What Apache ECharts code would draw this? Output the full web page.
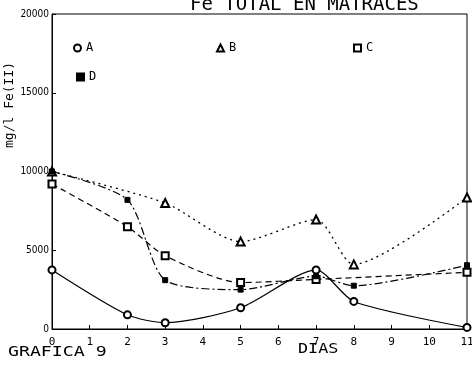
<!DOCTYPE html>
<html>
<head>
<meta charset="utf-8">
<script src="https://cdn.jsdelivr.net/npm/echarts@6/dist/echarts.min.js"></script>
<style>html,body{margin:0;padding:0;background:#fff}#c{width:472px;height:366px}</style>
</head>
<body>
<div id="c"></div>
<script>
// Data
const daysA = [0, 2, 3, 5, 7, 8, 11];
const valuesA = [3750, 900, 400, 1350, 3750, 1750, 100];
const daysB = [0, 3, 5, 7, 8, 11];
const valuesB = [10000, 8000, 5550, 6950, 4100, 8350];
const daysC = [0, 2, 3, 5, 7, 11];
const valuesC = [9200, 6500, 4650, 2950, 3150, 3600];
const daysD = [0, 2, 3, 5, 7, 8, 11];
const valuesD = [10000, 8200, 3100, 2500, 3350, 2750, 4050];
const yTicks = [0, 5000, 10000, 15000, 20000];
const seriesNames = ['A', 'B', 'C', 'D'];

const FONT = 'DejaVu Sans Mono';
const pair = (xs, ys) => xs.map((x, i) => [x, ys[i]]);

const chart = echarts.init(document.getElementById('c'), null, {renderer: 'canvas'});
const base = {
  type: 'line', smooth: 0.25, color: '#000',
  itemStyle: {color: '#000', borderColor: '#000', borderWidth: 1},
  emphasis: {disabled: true}
};
const option = {
  animation: false,
  backgroundColor: '#fff',
  grid: {left: 52, right: 5, top: 14, bottom: 37, show: true, borderColor: '#000', borderWidth: 1,
    containLabel: false, outerBoundsMode: 'none'},
  xAxis: {
    type: 'value', min: 0, max: 11, interval: 1,
    axisLine: {lineStyle: {color: '#000', width: 1}},
    axisTick: {inside: true, length: 4, lineStyle: {color: '#000'}},
    axisLabel: {color: '#000', fontFamily: FONT, fontSize: 11, margin: 8},
    splitLine: {show: false}
  },
  yAxis: {
    type: 'value', min: yTicks[0], max: yTicks[yTicks.length - 1], interval: 5000,
    axisLine: {show: true, lineStyle: {color: '#000', width: 1}},
    axisTick: {show: true, inside: true, length: 4, lineStyle: {color: '#000'}},
    axisLabel: {color: '#000', fontFamily: 'Liberation Sans Narrow, DejaVu Sans Condensed, ' + FONT, fontSize: 10, margin: 3,
      formatter: v => String(v)},
    splitLine: {show: false}
  },
  legend: [
    {data: [{name: 'A', icon: 'emptyCircle'}], left: 68, top: 37},
    {data: [{name: 'B', icon: 'emptyTriangle'}], left: 211, top: 37},
    {data: [{name: 'C', icon: 'emptyRect'}], left: 348, top: 37},
    {data: [{name: 'D', icon: 'rect'}], left: 71, top: 66}
  ].map(l => Object.assign({itemWidth: 7, itemHeight: 7, itemGap: 6, textStyle: {color: '#000', fontFamily: FONT, fontSize: 12}, inactiveColor: '#000'}, l)),
  series: [
    Object.assign({}, base, {name: seriesNames[0], data: pair(daysA, valuesA), symbol: 'emptyCircle', symbolSize: 7,
      lineStyle: {color: '#000', width: 1.2, type: 'solid'}}),
    Object.assign({}, base, {name: seriesNames[1], data: pair(daysB, valuesB), symbol: 'emptyTriangle', symbolSize: 8,
      lineStyle: {color: '#000', width: 1.3, type: [2, 4]}}),
    Object.assign({}, base, {name: seriesNames[2], data: pair(daysC, valuesC), symbol: 'emptyRect', symbolSize: 7,
      lineStyle: {color: '#000', width: 1.2, type: [6, 4]}}),
    Object.assign({}, base, {name: seriesNames[3], data: pair(daysD, valuesD), symbol: 'rect', symbolSize: 5,
      lineStyle: {color: '#000', width: 1.2, type: [8, 3, 2, 3]}})
  ],
  graphic: [
    {type: 'text', x: 190, y: -4, style: {text: 'Fe TOTAL EN MATRACES', font: '19px "DejaVu Sans Mono"', fill: '#000'}},
    {type: 'text', x: 10, y: 148, rotation: Math.PI / 2, style: {text: 'mg/l Fe(II)', font: '13px "DejaVu Sans Mono"', fill: '#000', textVerticalAlign: 'middle'}},
    {type: 'text', x: 8, y: 345, scaleX: 1.3, style: {text: 'GRAFICA 9', font: '14px "DejaVu Sans Mono"', fill: '#000'}},
    {type: 'text', x: 298, y: 342, scaleX: 1.2, style: {text: 'DIAS', font: '14px "DejaVu Sans Mono"', fill: '#000'}}
  ]
};
chart.setOption(option);
</script>
</body>
</html>
